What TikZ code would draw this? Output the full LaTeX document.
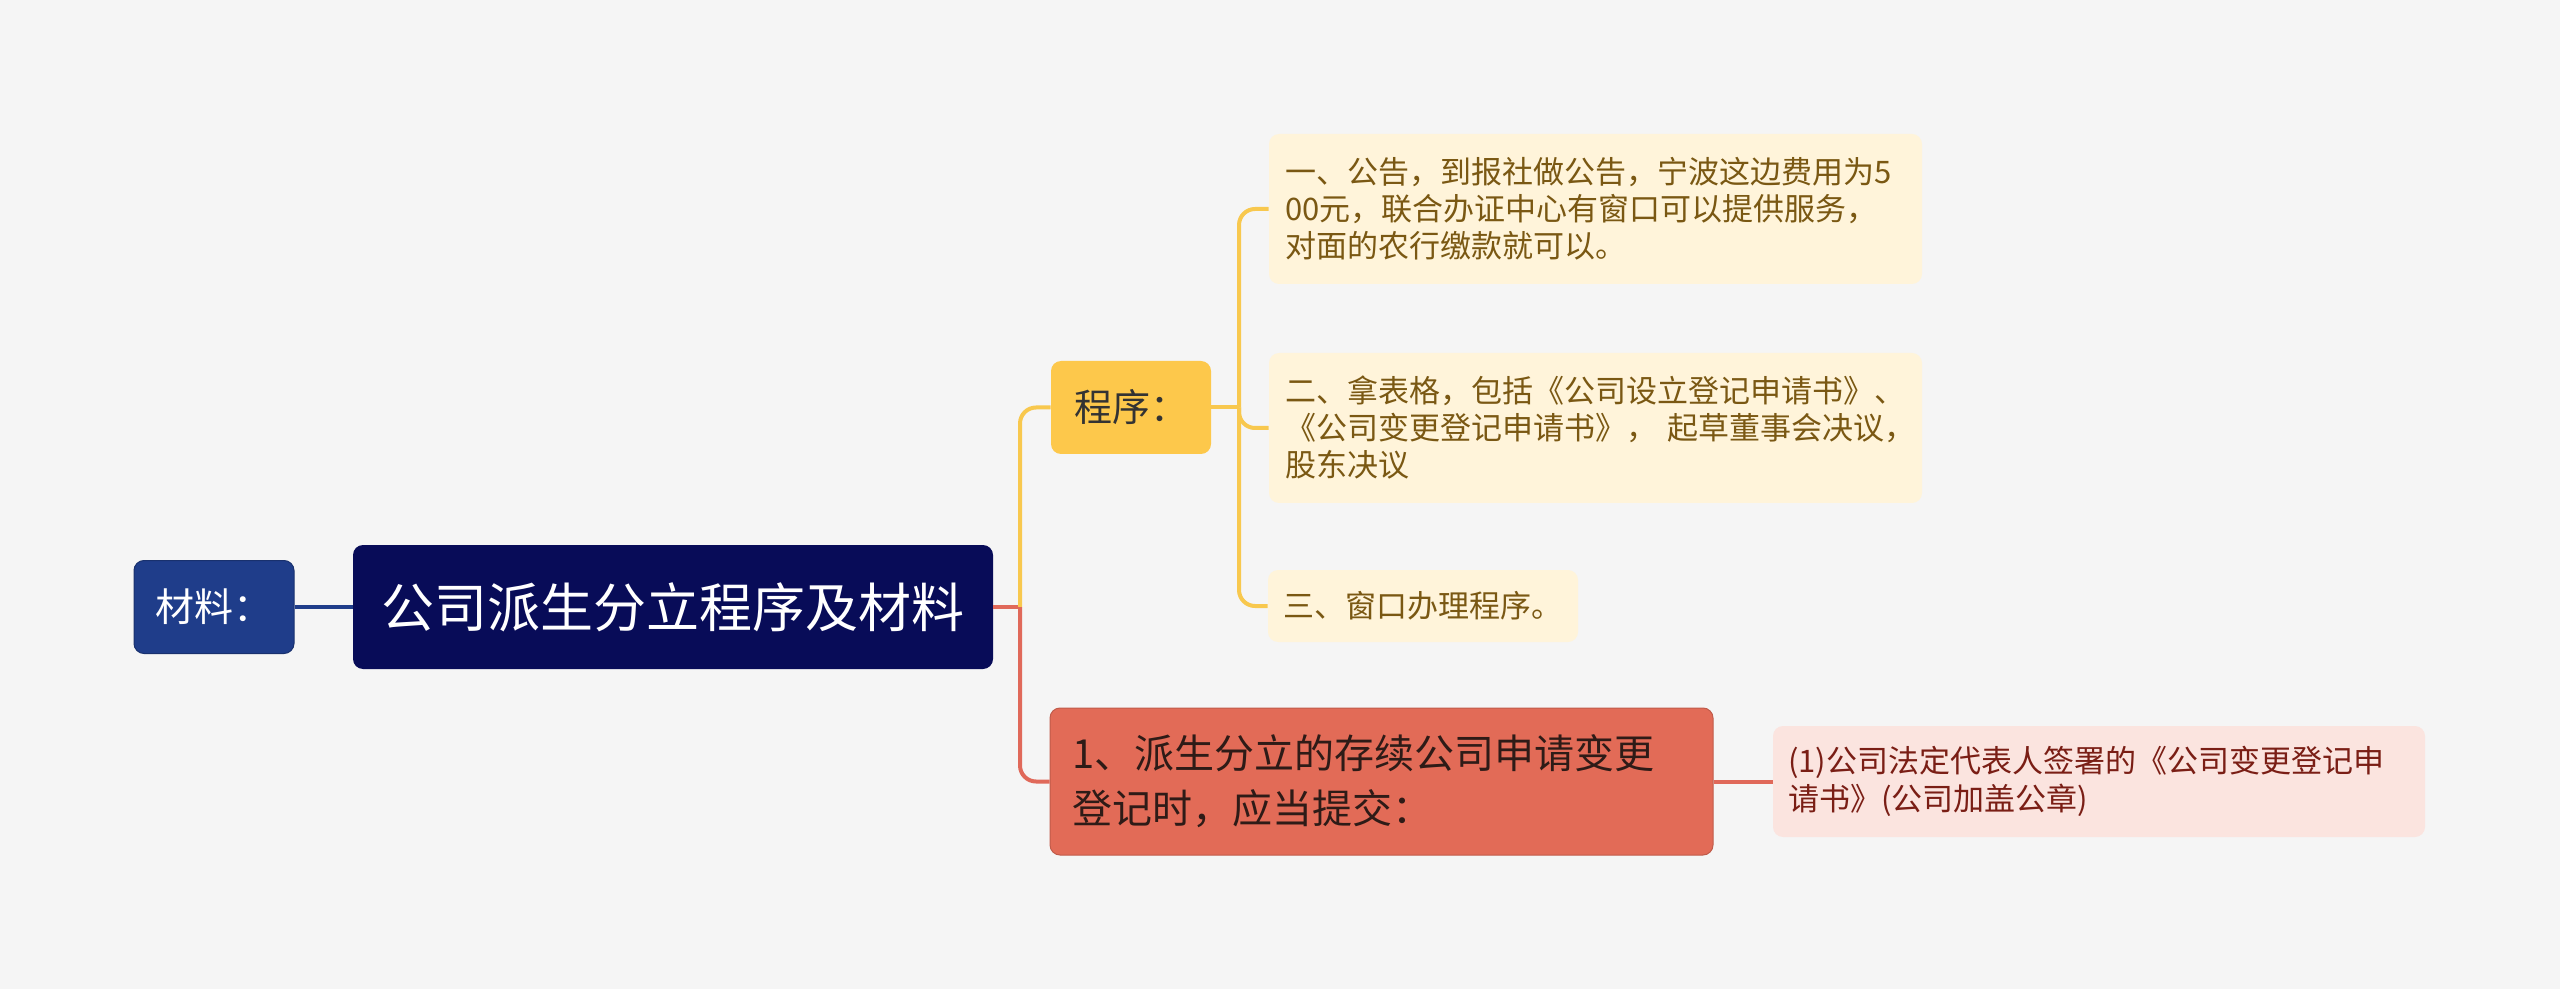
\documentclass[tikz,border=0pt]{standalone}
\usepackage{fontspec}
\setmainfont{Noto Sans CJK SC}
\definecolor{bgcol}{HTML}{F5F5F5}
\definecolor{navy}{HTML}{080C58}
\definecolor{sideblue}{HTML}{1F3D8A}
\definecolor{gold}{HTML}{FDC84B}
\definecolor{cream}{HTML}{FFF4DA}
\definecolor{creamtext}{HTML}{7A5813}
\definecolor{coral}{HTML}{E26B57}
\definecolor{coraltext}{HTML}{2E1B17}
\definecolor{blush}{HTML}{FBE4DF}
\definecolor{blushtext}{HTML}{7A1E15}
\definecolor{yline}{HTML}{F8C84E}
\definecolor{rline}{HTML}{E0695A}
\begin{document}
\begin{tikzpicture}[x=0.5pt, y=-0.5pt,
  box/.style={rounded corners=5pt, inner sep=0pt, align=center},
  rootbox/.style={box, fill=navy, text=white, minimum width=320pt, minimum height=62pt,
    font=\fontsize{26.5pt}{32pt}\selectfont},
  sidebox/.style={box, fill=sideblue, draw=sideblue!80!black, line width=0.5pt, text=white,
    minimum width=80pt, minimum height=46.5pt, font=\fontsize{19.5pt}{24pt}\selectfont},
  stepbox/.style={box, fill=gold, text=black!80, minimum width=80pt, minimum height=46.5pt,
    font=\fontsize{19pt}{24pt}\selectfont},
  leafbox/.style={box, fill=cream, text=creamtext, align=left, inner xsep=8pt,
    font=\fontsize{15.5pt}{18.5pt}\selectfont},
  subbox/.style={box, fill=coral, draw=coral!85!black, line width=0.5pt, text=coraltext,
    align=left, inner xsep=11pt, text width=309.5pt, minimum height=73.5pt,
    font=\fontsize{20pt}{27.5pt}\selectfont},
  notebox/.style={box, fill=blush, text=blushtext, align=left, inner xsep=7.5pt,
    text width=311pt, minimum height=55.5pt, font=\fontsize{15.5pt}{19pt}\selectfont},
  link/.style={line width=2pt},
  ylink/.style={link, yline, rounded corners=8pt},
  rlink/.style={link, rline, rounded corners=8pt},
  blink/.style={link, sideblue}
]
\fill[bgcol] (0,0) rectangle (2560,989);
\useasboundingbox (0,0) rectangle (2560,989);

\node[rootbox] (root) at (673,607) {公司派生分立程序及材料};
\node[sidebox] (cailiao) at (214,607) {材料：};
\node[stepbox] (chengxu) at (1131,407.5) {程序：};
\node[leafbox, text width=310.5pt, minimum height=75pt] (leaf1) at (1595.5,209)
  {一、公告，到报社做公告，宁波这边费用为5\\00元，联合办证中心有窗口可以提供服务，\\对面的农行缴款就可以。};
\node[leafbox, text width=310.5pt, minimum height=75pt] (leaf2) at (1595.5,428)
  {二、拿表格，包括《公司设立登记申请书》、\\《公司变更登记申请书》，~起草董事会决议，\\股东决议};
\node[leafbox, align=center, inner xsep=0pt, minimum width=155pt, minimum height=36pt] (leaf3) at (1423,606)
  {三、窗口办理程序。};
\node[subbox] (sub1) at (1381.5,781.5) {1、派生分立的存续公司申请变更\\登记时，应当提交：};
\node[notebox] (note1) at (2099,781.5) {(1)公司法定代表人签署的《公司变更登记申\\请书》(公司加盖公章)};

\coordinate (jr) at (1020,607);
\coordinate (jc) at (1239,407.5);

\draw[blink] (cailiao) -- (root);
\draw[link, rline] (root.east) -- (jr);
\draw[ylink] (jr) |- (chengxu.west);
\draw[rlink] (jr) |- (sub1.west);
\draw[link, yline] (chengxu.east) -- (jc);
\draw[ylink] (jc) |- (leaf1.west);
\draw[ylink] (jc) |- (leaf2.west);
\draw[ylink] (jc) |- (leaf3.west);
\draw[link, rline] (sub1.east) -- (note1.west);
\end{tikzpicture}
\end{document}
